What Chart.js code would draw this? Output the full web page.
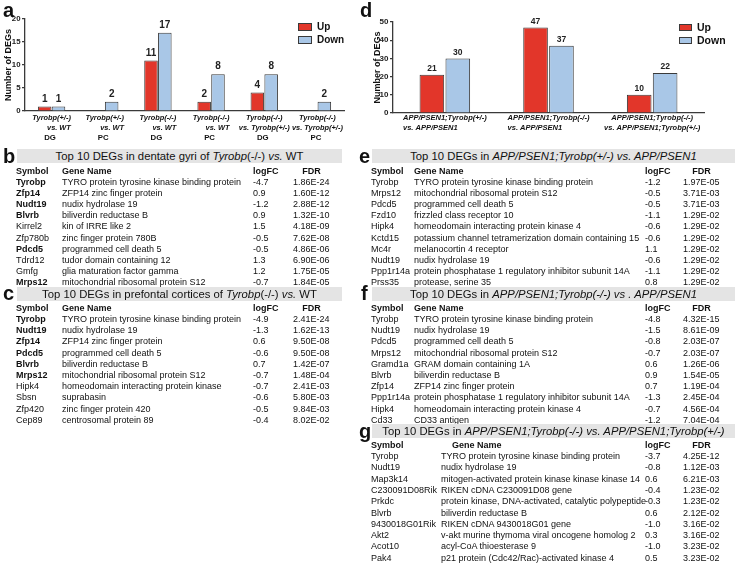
<!DOCTYPE html>
<html>
<head>
<meta charset="utf-8">
<script src="https://cdn.jsdelivr.net/npm/chart.js@4.4.0/dist/chart.umd.min.js"></script>
<style>
body{margin:0;background:#fff;font-family:"Liberation Sans",Arial,sans-serif;color:#111;}
#fig{position:relative;width:738px;height:577px;overflow:hidden;}
.lbl{position:absolute;font-weight:bold;font-size:20px;line-height:20px;}
.hbar{position:absolute;background:#e4e4e4;font-size:11.3px;text-align:center;white-space:nowrap;}
.t{position:absolute;white-space:nowrap;line-height:12px;}
canvas{position:absolute;}
</style>
</head>
<body>
<div id="fig">
  <canvas id="chartA" width="369" height="148" style="left:0;top:0"></canvas>
  <canvas id="chartD" width="369" height="148" style="left:369px;top:0"></canvas>
</div>
<script>
// ---- chart data ----
var aCategories = [
  ['Tyrobp(+/-)', 'vs. WT', 'DG'],
  ['Tyrobp(+/-)', 'vs. WT', 'PC'],
  ['Tyrobp(-/-)', 'vs. WT', 'DG'],
  ['Tyrobp(-/-)', 'vs. WT', 'PC'],
  ['Tyrobp(-/-)', 'vs. Tyrobp(+/-)', 'DG'],
  ['Tyrobp(-/-)', 'vs. Tyrobp(+/-)', 'PC']
];
var aUp = [1, 0, 11, 2, 4, 0];
var aDown = [1, 2, 17, 8, 8, 2];
var aTicks = [0, 5, 10, 15, 20];

var dCategories = [
  ['APP/PSEN1;Tyrobp(+/-)', 'vs. APP/PSEN1'],
  ['APP/PSEN1;Tyrobp(-/-)', 'vs. APP/PSEN1'],
  ['APP/PSEN1;Tyrobp(-/-)', 'vs. APP/PSEN1;Tyrobp(+/-)']
];
var dUp = [21, 47, 10];
var dDown = [30, 37, 22];
var dTicks = [0, 10, 20, 30, 40, 50];

var seriesNames = ['Up', 'Down'];

// ---- table data ----
var bSymbols = ['Tyrobp','Zfp14','Nudt19','Blvrb','Kirrel2','Zfp780b','Pdcd5','Tdrd12','Gmfg','Mrps12'];
var bBold = [1,1,1,1,0,0,1,0,0,1];
var bNames = ['TYRO protein tyrosine kinase binding protein','ZFP14 zinc finger protein','nudix hydrolase 19','biliverdin reductase B','kin of IRRE like 2','zinc finger protein 780B','programmed cell death 5','tudor domain containing 12','glia maturation factor gamma','mitochondrial ribosomal protein S12'];
var bLogFC = ['-4.7','0.9','-1.2','0.9','1.5','-0.5','-0.5','1.3','1.2','-0.7'];
var bFDR = ['1.86E-24','1.60E-12','2.88E-12','1.32E-10','4.18E-09','7.62E-08','4.86E-06','6.90E-06','1.75E-05','1.84E-05'];

var cSymbols = ['Tyrobp','Nudt19','Zfp14','Pdcd5','Blvrb','Mrps12','Hipk4','Sbsn','Zfp420','Cep89'];
var cBold = [1,1,1,1,1,1,0,0,0,0];
var cNames = ['TYRO protein tyrosine kinase binding protein','nudix hydrolase 19','ZFP14 zinc finger protein','programmed cell death 5','biliverdin reductase B','mitochondrial ribosomal protein S12','homeodomain interacting protein kinase','suprabasin','zinc finger protein 420','centrosomal protein 89'];
var cLogFC = ['-4.9','-1.3','0.6','-0.6','0.7','-0.7','-0.7','-0.6','-0.5','-0.4'];
var cFDR = ['2.41E-24','1.62E-13','9.50E-08','9.50E-08','1.42E-07','1.48E-04','2.41E-03','5.80E-03','9.84E-03','8.02E-02'];

var eSymbols = ['Tyrobp','Mrps12','Pdcd5','Fzd10','Hipk4','Kctd15','Mc4r','Nudt19','Ppp1r14a','Prss35'];
var eNames = ['TYRO protein tyrosine kinase binding protein','mitochondrial ribosomal protein S12','programmed cell death 5','frizzled class receptor 10','homeodomain interacting protein kinase 4','potassium channel tetramerization domain containing 15','melanocortin 4 receptor','nudix hydrolase 19','protein phosphatase 1 regulatory inhibitor subunit 14A','protease, serine 35'];
var eLogFC = ['-1.2','-0.5','-0.5','-1.1','-0.6','-0.6','1.1','-0.6','-1.1','0.8'];
var eFDR = ['1.97E-05','3.71E-03','3.71E-03','1.29E-02','1.29E-02','1.29E-02','1.29E-02','1.29E-02','1.29E-02','1.29E-02'];

var fSymbols = ['Tyrobp','Nudt19','Pdcd5','Mrps12','Gramd1a','Blvrb','Zfp14','Ppp1r14a','Hipk4','Cd33'];
var fNames = ['TYRO protein tyrosine kinase binding protein','nudix hydrolase 19','programmed cell death 5','mitochondrial ribosomal protein S12','GRAM domain containing 1A','biliverdin reductase B','ZFP14 zinc finger protein','protein phosphatase 1 regulatory inhibitor subunit 14A','homeodomain interacting protein kinase 4','CD33 antigen'];
var fLogFC = ['-4.8','-1.5','-0.8','-0.7','0.6','0.9','0.7','-1.3','-0.7','-1.2'];
var fFDR = ['4.32E-15','8.61E-09','2.03E-07','2.03E-07','1.26E-06','1.54E-05','1.19E-04','2.45E-04','4.56E-04','7.04E-04'];

var gSymbols = ['Tyrobp','Nudt19','Map3k14','C230091D08Rik','Prkdc','Blvrb','9430018G01Rik','Akt2','Acot10','Pak4'];
var gNames = ['TYRO protein tyrosine kinase binding protein','nudix hydrolase 19','mitogen-activated protein kinase kinase kinase 14','RIKEN cDNA C230091D08 gene','protein kinase, DNA-activated, catalytic polypeptide','biliverdin reductase B','RIKEN cDNA 9430018G01 gene','v-akt murine thymoma viral oncogene homolog 2','acyl-CoA thioesterase 9','p21 protein (Cdc42/Rac)-activated kinase 4'];
var gLogFC = ['-3.7','-0.8','0.6','-0.4','-0.3','0.6','-1.0','0.3','-1.0','0.5'];
var gFDR = ['4.25E-12','1.12E-03','6.21E-03','1.23E-02','1.23E-02','2.12E-02','3.16E-02','3.16E-02','3.23E-02','3.23E-02'];

var FONT = '"Liberation Sans", Arial, sans-serif';
var RED = '#e2362a', BLUE = '#a9c7e7', EDGE = '#3a3a3a';

// value labels on top of bars
var barLabels = {
  id: 'barLabels',
  afterDatasetsDraw: function(chart, args, o) {
    var ctx = chart.ctx;
    ctx.save();
    ctx.font = 'bold ' + o.size + 'px ' + FONT;
    ctx.fillStyle = '#222';
    ctx.textAlign = 'center';
    ctx.textBaseline = 'middle';
    chart.data.datasets.forEach(function(ds, i) {
      chart.getDatasetMeta(i).data.forEach(function(el, j) {
        if (ds.data[j] > 0) ctx.fillText(ds.data[j], el.x, el.y - o.gap);
      });
    });
    ctx.restore();
  }
};

// multi-line category labels under the axis
var groupLabels = {
  id: 'groupLabels',
  afterDraw: function(chart, args, o) {
    var ctx = chart.ctx, xs = chart.scales.x;
    ctx.save();
    ctx.fillStyle = '#111';
    ctx.textBaseline = 'middle';
    ctx.textAlign = 'left';
    chart.data.labels.forEach(function(lines, i) {
      var cx = xs.getPixelForValue(i);
      ctx.font = 'italic bold ' + o.size + 'px ' + FONT;
      var w0 = ctx.measureText(lines[0]).width;
      lines.forEach(function(s, k) {
        var plain = o.plainLast && k === lines.length - 1;
        ctx.font = (plain ? 'bold ' : 'italic bold ') + (plain ? o.size + 0.4 : o.size) + 'px ' + FONT;
        var w = ctx.measureText(s).width, tx;
        if (plain) tx = cx + o.lastShift - w / 2;
        else if (k === 0 || w >= w0) tx = cx - w / 2;
        else tx = o.align === 'right' ? cx + w0 / 2 - w : cx - w0 / 2;
        ctx.fillText(s, tx, xs.top + o.top + k * o.lh);
      });
    });
    ctx.restore();
  }
};

// boxed legend inside plot
var boxLegend = {
  id: 'boxLegend',
  afterDraw: function(chart, args, o) {
    var ctx = chart.ctx;
    ctx.save();
    chart.data.datasets.forEach(function(ds, i) {
      var y = o.y + i * o.step;
      ctx.fillStyle = ds.backgroundColor;
      ctx.fillRect(o.x, y, o.w, o.h);
      ctx.strokeStyle = ds.borderColor;
      ctx.lineWidth = 1;
      ctx.strokeRect(o.x + 0.5, y + 0.5, o.w - 1, o.h - 1);
      ctx.fillStyle = '#111';
      ctx.font = 'bold ' + o.size + 'px ' + FONT;
      ctx.textBaseline = 'middle';
      ctx.fillText(ds.label, o.x + o.w + o.gap, y + o.h / 2 + 0.5);
    });
    ctx.restore();
  }
};

function makeBars(id, cats, up, down, ticks, cfg) {
  return new Chart(document.getElementById(id), {
    type: 'bar',
    data: {
      labels: cats,
      datasets: [
        {label: seriesNames[0], data: up, backgroundColor: RED, borderColor: EDGE, borderWidth: 1},
        {label: seriesNames[1], data: down, backgroundColor: BLUE, borderColor: EDGE, borderWidth: 1}
      ]
    },
    options: {
      responsive: false,
      animation: false,
      categoryPercentage: cfg.catPct,
      barPercentage: cfg.barPct,
      layout: {padding: {left: 0, right: cfg.right, top: cfg.top, bottom: 0}},
      plugins: {
        legend: {display: false},
        tooltip: {enabled: false},
        barLabels: {size: cfg.valSize, gap: cfg.valGap},
        groupLabels: cfg.groups,
        boxLegend: cfg.legend
      },
      scales: {
        x: {
          ticks: {display: false},
          grid: {display: false},
          border: {display: true, color: EDGE, width: 1.3},
          afterFit: function(s) { s.height = cfg.xh; }
        },
        y: {
          min: ticks[0], max: ticks[ticks.length - 1],
          afterBuildTicks: function(s) { s.ticks = ticks.map(function(v) { return {value: v}; }); },
          ticks: {font: {family: FONT, size: cfg.tickSize, weight: 'bold'}, color: '#222', padding: 1.5},
          grid: {display: true, drawOnChartArea: false, drawTicks: true, tickLength: 3, color: EDGE, lineWidth: 1.2},
          border: {display: true, color: EDGE, width: 1.3},
          title: {display: true, text: 'Number of DEGs', font: {family: FONT, size: 9, weight: 'bold'}, color: '#111', padding: {top: 3, bottom: 0}},
          afterFit: function(s) { s.width = cfg.yw; }
        }
      }
    },
    plugins: [barLabels, groupLabels, boxLegend]
  });
}

makeBars('chartA', aCategories, aUp, aDown, aTicks, {
  catPct: 0.52, barPct: 0.98, right: 25, top: 19, xh: 37, yw: 25,
  tickSize: 7.8, valSize: 10, valGap: 7.5,
  groups: {size: 7.4, top: 6.5, lh: 10, align: 'right', plainLast: true, lastShift: -1.5},
  legend: {x: 298, y: 23, w: 14, h: 8, step: 13, gap: 5, size: 10}
});

makeBars('chartD', dCategories, dUp, dDown, dTicks, {
  catPct: 0.5, barPct: 0.95, right: 34, top: 22, xh: 35, yw: 24,
  tickSize: 8, valSize: 8.5, valGap: 6,
  groups: {size: 7.5, top: 4.5, lh: 10, align: 'left', plainLast: false, lastShift: 0},
  legend: {x: 310, y: 24, w: 13, h: 7, step: 13, gap: 5, size: 10.5}
});

// ---- tables ----
var fig = document.getElementById('fig');
function txt(html, x, cy, size, bold, extra) {
  var d = document.createElement('div');
  d.className = 't';
  d.style.left = x + 'px';
  d.style.top = (cy - 6) + 'px';
  d.style.fontSize = size + 'px';
  if (bold) d.style.fontWeight = 'bold';
  if (extra) for (var k in extra) d.style[k] = extra[k];
  d.innerHTML = html;
  fig.appendChild(d);
  return d;
}
function panelLabel(ch, x, y) {
  var d = document.createElement('div');
  d.className = 'lbl';
  d.style.left = x + 'px'; d.style.top = y + 'px';
  d.textContent = ch;
  fig.appendChild(d);
}
function table(t) {
  var bar = document.createElement('div');
  bar.className = 'hbar';
  bar.style.left = t.bx + 'px'; bar.style.top = t.by + 'px';
  bar.style.width = t.bw + 'px'; bar.style.height = '14px'; bar.style.lineHeight = '14px';
  bar.innerHTML = t.title;
  fig.appendChild(bar);
  var c = t.cols, s = t.size;
  txt('Symbol', c[0], t.hy, s, true);
  txt('Gene Name', t.geneHead || c[1], t.hy, s, true);
  txt('logFC', c[2], t.hy, s, true);
  txt('FDR', c[3], t.hy, s, true, {width: t.fw + 'px', textAlign: 'center'});
  t.sym.forEach(function(sym, i) {
    var cy = t.ry + i * t.pitch;
    txt(sym, c[0], cy, s, t.bold ? t.bold[i] : 0);
    txt(t.names[i], c[1], cy, s, false);
    txt(t.fc[i], c[2], cy, s, false);
    txt(t.fdr[i], c[3], cy, s, false);
  });
}

panelLabel('a', 3, 0);
panelLabel('d', 360, 0);
panelLabel('b', 3, 146);
panelLabel('c', 3, 283);
panelLabel('e', 359, 146);
panelLabel('f', 361, 283);
panelLabel('g', 359, 421);

var L = [16, 62, 253, 293], R = [371, 414, 645, 683];
table({title: 'Top 10 DEGs in dentate gyri of <i>Tyrobp</i>(-/-) <i>vs.</i> WT', bx: 17, by: 149, bw: 325,
  cols: L, fw: 37, hy: 170.5, ry: 181.5, pitch: 11.2, size: 9,
  sym: bSymbols, bold: bBold, names: bNames, fc: bLogFC, fdr: bFDR});
table({title: 'Top 10 DEGs in prefontal cortices of <i>Tyrobp</i>(-/-) <i>vs.</i> WT', bx: 17, by: 287, bw: 325,
  cols: L, fw: 37, hy: 307.5, ry: 319, pitch: 11.2, size: 9,
  sym: cSymbols, bold: cBold, names: cNames, fc: cLogFC, fdr: cFDR});
table({title: 'Top 10 DEGs in <i>APP/PSEN1;Tyrobp(+/-) vs. APP/PSEN1</i>', bx: 372, by: 149, bw: 363,
  cols: R, fw: 37, hy: 170.5, ry: 181.5, pitch: 11.2, size: 9,
  sym: eSymbols, names: eNames, fc: eLogFC, fdr: eFDR});
table({title: 'Top 10 DEGs in <i>APP/PSEN1;Tyrobp(-/-) vs . APP/PSEN1</i>', bx: 372, by: 287, bw: 363,
  cols: R, fw: 37, hy: 307.5, ry: 319, pitch: 11.2, size: 9,
  sym: fSymbols, names: fNames, fc: fLogFC, fdr: fFDR});
table({title: 'Top 10 DEGs in <i>APP/PSEN1;Tyrobp(-/-) vs. APP/PSEN1;Tyrobp(+/-)</i>', bx: 372, by: 424, bw: 363,
  cols: [371, 441, 645, 683], geneHead: 452, fw: 37, hy: 445, ry: 456, pitch: 11.3, size: 9,
  sym: gSymbols, names: gNames, fc: gLogFC, fdr: gFDR});
</script>
</body>
</html>
